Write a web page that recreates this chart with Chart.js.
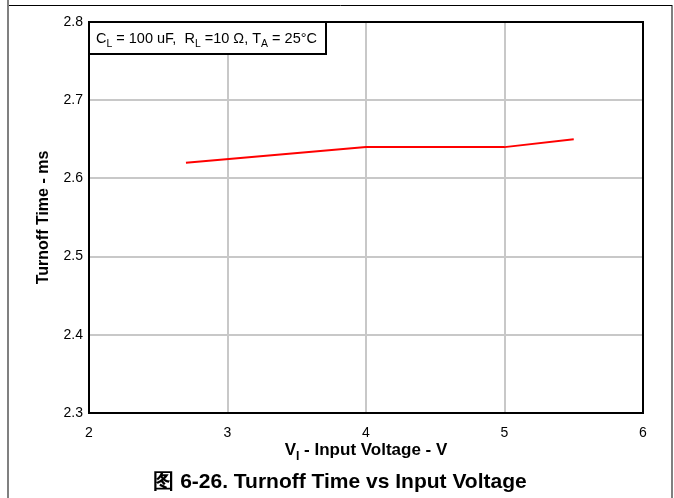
<!DOCTYPE html>
<html>
<head>
<meta charset="utf-8">
<script src="https://cdn.jsdelivr.net/npm/chart.js@4/dist/chart.umd.min.js"></script>
<style>
  html, body { margin: 0; padding: 0; background: #fff; }
  #wrap { width: 674px; height: 498px; position: relative; }
</style>
</head>
<body>
<div id="wrap"><canvas id="c" width="674" height="498"></canvas></div>
<script>
// data
const inputVoltage = [2.7, 4, 5, 5.5];
const turnoffTime = [2.62, 2.64, 2.64, 2.65];
const xTicks = [2, 3, 4, 5, 6];
const yTicks = [2.3, 2.4, 2.5, 2.6, 2.7, 2.8];

const FONT = 'Arial, "Liberation Sans", sans-serif';

// draw text runs, some parts as subscripts
function drawRuns(ctx, runs, x, y, size, bold, align) {
  const w = runs.map(r => {
    ctx.font = (bold ? 'bold ' : '') + (r.sub ? size * 0.72 : size) + 'px ' + FONT;
    return ctx.measureText(r.t).width;
  });
  const total = w.reduce((a, b) => a + b, 0);
  let cx = align === 'center' ? x - total / 2 : x;
  ctx.textAlign = 'left';
  runs.forEach((r, i) => {
    ctx.font = (bold ? 'bold ' : '') + (r.sub ? size * 0.72 : size) + 'px ' + FONT;
    ctx.fillText(r.t, cx, r.sub ? y + size * 0.28 : y);
    cx += w[i];
  });
}

const decor = {
  id: 'decor',
  afterDatasetsDraw(chart) {
    const ctx = chart.ctx;
    const a = chart.chartArea;
    ctx.save();
    // plot frame
    ctx.strokeStyle = '#000';
    ctx.lineWidth = 2;
    ctx.strokeRect(a.left, a.top, a.right - a.left, a.bottom - a.top);

    // condition box
    ctx.fillStyle = '#fff';
    ctx.fillRect(a.left, a.top, 237, 32);
    ctx.strokeRect(a.left, a.top, 237, 32);
    ctx.fillStyle = '#000';
    ctx.textBaseline = 'alphabetic';
    drawRuns(ctx, [
      { t: 'C' }, { t: 'L', sub: true }, { t: ' = 100 uF,  R' }, { t: 'L', sub: true },
      { t: ' =10 Ω, T' }, { t: 'A', sub: true }, { t: ' = 25°C' }
    ], a.left + 7, a.top + 21, 14.5, false, 'left');

    // axis titles
    drawRuns(ctx, [{ t: 'V' }, { t: 'I', sub: true }, { t: ' - Input Voltage - V' }],
      (a.left + a.right) / 2, 455, 17, true, 'center');
    ctx.save();
    ctx.translate(48, (a.top + a.bottom) / 2);
    ctx.rotate(-Math.PI / 2);
    ctx.textAlign = 'center';
    ctx.font = 'bold 16px ' + FONT;
    ctx.fillText('Turnoff Time - ms', 0, 0);
    ctx.restore();

    // caption
    ctx.textAlign = 'center';
    ctx.font = 'bold 21px ' + FONT;
    ctx.fillText('图 6-26. Turnoff Time vs Input Voltage', 340, 488);

    // page frame
    ctx.lineWidth = 2;
    ctx.strokeStyle = '#808080';
    ctx.beginPath();
    ctx.moveTo(8, 0); ctx.lineTo(8, 498);
    ctx.moveTo(672, 5); ctx.lineTo(672, 498);
    ctx.stroke();
    ctx.lineWidth = 1;
    ctx.strokeStyle = '#000';
    ctx.beginPath();
    ctx.moveTo(9, 5.5); ctx.lineTo(672, 5.5);
    ctx.stroke();
    ctx.restore();
  }
};

new Chart(document.getElementById('c'), {
  type: 'scatter',
  data: {
    datasets: [{
      data: inputVoltage.map((v, i) => ({ x: v, y: turnoffTime[i] })),
      showLine: true,
      borderColor: '#ff0000',
      borderWidth: 2,
      pointRadius: 0,
      tension: 0
    }]
  },
  options: {
    responsive: false,
    animation: false,
    layout: { padding: { left: 0, top: 22, right: 31, bottom: 0 } },
    plugins: { legend: { display: false }, tooltip: { enabled: false } },
    scales: {
      x: {
        type: 'linear', min: 2, max: 6,
        afterBuildTicks: s => { s.ticks = xTicks.map(v => ({ value: v })); },
        afterFit: s => { s.height = 85; },
        grid: { color: '#c8c8c8', lineWidth: 2, drawTicks: false },
        border: { display: false },
        ticks: { padding: 12, color: '#000', font: { family: FONT, size: 14 } }
      },
      y: {
        type: 'linear', min: 2.3, max: 2.8,
        afterBuildTicks: s => { s.ticks = yTicks.map(v => ({ value: v })); },
        afterFit: s => { s.width = 89; },
        grid: { color: '#c8c8c8', lineWidth: 2, drawTicks: false },
        border: { display: false },
        ticks: { padding: 6, color: '#000', font: { family: FONT, size: 14 },
          callback: v => v.toFixed(1) }
      }
    }
  },
  plugins: [decor]
});
</script>
</body>
</html>
